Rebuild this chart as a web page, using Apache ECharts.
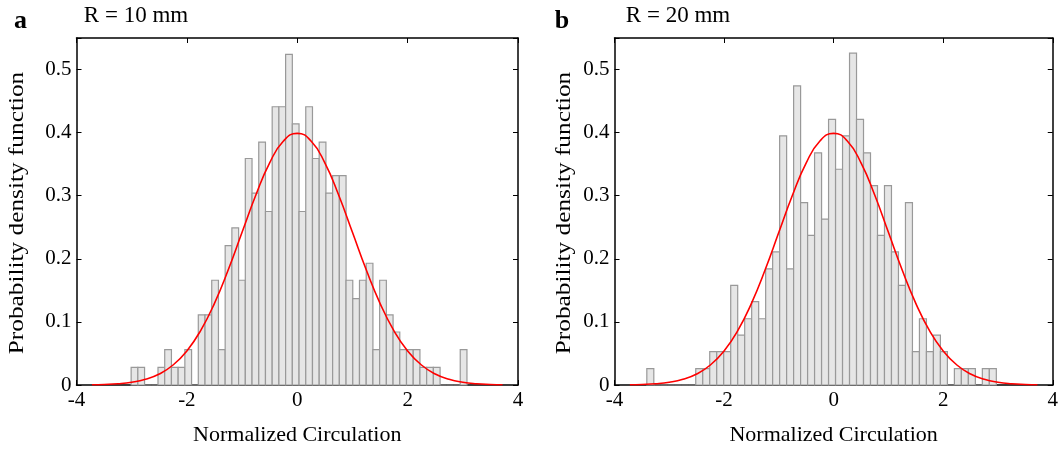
<!DOCTYPE html>
<html>
<head>
<meta charset="utf-8">
<script src="https://cdn.jsdelivr.net/npm/echarts@6/dist/echarts.min.js"></script>
<style>
html,body{margin:0;padding:0;background:#fff;}
#chart{width:1061px;height:451px;}
</style>
</head>
<body>
<div id="chart"></div>
<script>
// Panel a: R = 10 mm histogram (50 bins)
const binStartA = -3.01;
const binWidthA = 0.1217;
const densityA = [0.028,0.028,0,0,0.028,0.056,0.028,0.028,0.056,0,
  0.111,0.111,0.166,0.056,0.221,0.249,0.166,0.359,0.304,0.385,
  0.275,0.441,0.441,0.524,0.414,0.275,0.441,0.359,0.385,0.304,
  0.332,0.332,0.166,0.137,0.166,0.193,0.056,0.166,0.111,0.084,
  0.056,0.056,0.056,0.028,0.028,0.028,0,0,0,0.056];

// Panel b: R = 20 mm histogram (50 bins)
const binStartB = -3.41;
const binWidthB = 0.1276;
const densityB = [0.026,0,0,0,0,0,0,0.026,0.026,0.053,
  0.053,0.053,0.158,0.079,0.105,0.132,0.105,0.184,0.211,0.395,
  0.184,0.474,0.289,0.237,0.368,0.263,0.421,0.342,0.395,0.526,
  0.421,0.368,0.316,0.237,0.316,0.211,0.158,0.289,0.053,0.105,
  0.053,0.079,0.053,0,0.026,0.026,0.026,0,0.026,0.026];

// Fitted curve
const curveX = [-3.72,-3.5,-3.25,-3,-2.75,-2.5,-2.25,-2,-1.75,-1.5,-1.25,-1,-0.75,-0.5,-0.25,0,
  0.25,0.5,0.75,1,1.25,1.5,1.75,2,2.25,2.5,2.75,3,3.25,3.5,3.72];
const curveY = [0.0004,0.0009,0.002,0.0044,0.0091,0.0175,0.0317,0.054,0.0863,0.1295,0.1826,0.242,0.3011,0.3521,0.3867,0.3989,
  0.3867,0.3521,0.3011,0.242,0.1826,0.1295,0.0863,0.054,0.0317,0.0175,0.0091,0.0044,0.002,0.0009,0.0004];

const xTicks = {min:-4, max:4, interval:2};
const yTicks = {min:0, max:0.55, interval:0.1};
const panelTitles = ['R = 10 mm','R = 20 mm'];
const panelLetters = ['a','b'];
const xName = 'Normalized Circulation';
const yName = 'Probability density function';

const FONT = 'Liberation Serif';
const chart = echarts.init(document.getElementById('chart'), null, {renderer:'canvas'});

const grids = [
  {left:76.5, top:38, width:441.5, height:350},
  {left:614.5, top:38, width:440.5, height:350}
];

const xAxes = [], yAxes = [];
grids.forEach((g, gi) => {
  const common = {
    type:'value', gridIndex:gi, min:xTicks.min, max:xTicks.max, interval:xTicks.interval,
    splitLine:{show:false},
    axisLine:{show:true, onZero:false, lineStyle:{color:'#000', width:1.5}},
    axisTick:{show:true, inside:true, length:5, lineStyle:{color:'#000', width:1}}
  };
  xAxes.push(Object.assign({}, common, {
    position:'bottom',
    name:xName, nameLocation:'middle', nameGap:39,
    nameTextStyle:{fontFamily:FONT, fontSize:22, color:'#000'},
    axisLabel:{show:true, margin:5, fontFamily:FONT, fontSize:21, color:'#000'}
  }));
  xAxes.push(Object.assign({}, common, {
    position:'top', axisLabel:{show:false}
  }));
  const ycommon = {
    type:'value', gridIndex:gi, min:yTicks.min, max:yTicks.max, interval:yTicks.interval,
    splitLine:{show:false},
    axisLine:{show:true, onZero:false, lineStyle:{color:'#000', width:1.5}},
    axisTick:{show:true, inside:true, length:5, lineStyle:{color:'#000', width:1}}
  };
  yAxes.push(Object.assign({}, ycommon, {
    position:'left',
    axisLabel:{show:true, margin:5, fontFamily:FONT, fontSize:21, color:'#000',
      formatter: v => (v > 0.5 + 1e-9 ? '' : String(+v.toFixed(2)))}
  }));
  yAxes.push(Object.assign({}, ycommon, {
    position:'right', axisLabel:{show:false}
  }));
});

function histSeries(gi, start, w, dens) {
  return {
    type:'custom', xAxisIndex:gi*2, yAxisIndex:gi*2, z:3,
    data: dens.map((h, i) => [start + (i + 0.5) * w, h, i]),
    renderItem: function(params, api) {
      const i = api.value(2);
      const x0 = start + i * w;
      const p0 = api.coord([x0, api.value(1)]);
      const p1 = api.coord([x0 + w, 0]);
      return {
        type:'rect',
        shape:{x:p0[0], y:p0[1], width:p1[0]-p0[0], height:p1[1]-p0[1]},
        style:{fill:'#e6e6e6', stroke:'#999999', lineWidth:1.2}
      };
    }
  };
}
function curveSeries(gi) {
  return {
    type:'line', xAxisIndex:gi*2, yAxisIndex:gi*2, z:4,
    data: curveX.map((x, i) => [x, curveY[i]]),
    smooth:true, showSymbol:false, symbol:'none',
    lineStyle:{color:'#ff0000', width:1.6},
    animation:false
  };
}

const graphics = [];
const letterX = [20.5, 562];
const titleX = [136, 678];
const yNameX = [17, 564];
[0,1].forEach(i => {
  graphics.push({type:'text', x:letterX[i], y:21,
    style:{text:panelLetters[i], fontFamily:FONT, fontSize:26, fontWeight:'bold', fill:'#000',
      align:'center', verticalAlign:'middle'}});
  graphics.push({type:'text', x:titleX[i], y:16,
    style:{text:panelTitles[i], fontFamily:FONT, fontSize:23, fill:'#000',
      align:'center', verticalAlign:'middle'}});
  graphics.push({type:'text', x:yNameX[i], y:213, rotation:Math.PI/2, scaleX:1.15,
    style:{text:yName, fontFamily:FONT, fontSize:22, fill:'#000',
      align:'center', verticalAlign:'middle'}});
});

chart.setOption({
  animation:false,
  backgroundColor:'#fff',
  grid:grids,
  xAxis:xAxes,
  yAxis:yAxes,
  graphic:graphics,
  series:[
    histSeries(0, binStartA, binWidthA, densityA),
    curveSeries(0),
    histSeries(1, binStartB, binWidthB, densityB),
    curveSeries(1)
  ]
});
</script>
</body>
</html>
